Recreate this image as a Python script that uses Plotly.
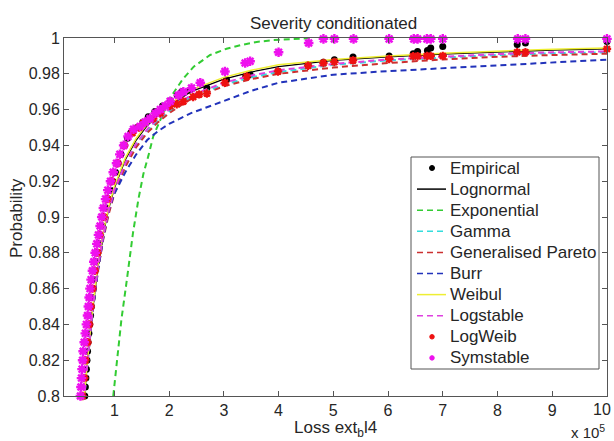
import plotly.graph_objects as go

# ---------------- data (x in units of 1e5) ----------------
emp_x = [0.46, 0.47, 0.48, 0.49, 0.50, 0.51, 0.52, 0.535, 0.55, 0.565, 0.58, 0.595, 0.61, 0.63, 0.65,
         0.67, 0.70, 0.72, 0.75, 0.78, 0.81, 0.85, 0.89, 0.93, 0.97, 1.02, 1.07, 1.12, 1.18, 1.24,
         1.30, 1.34, 1.42, 1.52, 1.62, 1.74, 1.88, 2.02, 2.15, 2.23, 2.38, 2.69, 3.05, 3.40, 3.48,
         3.99, 4.54, 4.82, 5.02, 5.36, 6.02, 6.46, 6.54, 6.72, 6.78, 7.00, 8.36, 8.51, 10.0]
emp_y = [0.800, 0.805, 0.810, 0.815, 0.820, 0.825, 0.830, 0.835, 0.840, 0.845, 0.850, 0.855, 0.860,
         0.865, 0.870, 0.875, 0.880, 0.885, 0.890, 0.895, 0.900, 0.905, 0.910, 0.915, 0.920, 0.925,
         0.930, 0.935, 0.940, 0.944, 0.947, 0.948, 0.950, 0.953, 0.956, 0.959, 0.962, 0.965, 0.968,
         0.970, 0.971, 0.972, 0.9767, 0.9785, 0.9795, 0.9813, 0.985, 0.9864, 0.9879, 0.9894, 0.990,
         0.9912, 0.9925, 0.993, 0.9944, 0.9953, 0.9963, 0.9972, 0.998]

sym_x = [0.38, 0.39, 0.40, 0.41, 0.42, 0.43, 0.45, 0.47, 0.49, 0.51, 0.525, 0.54, 0.555, 0.575, 0.60,
         0.625, 0.65, 0.68, 0.71, 0.74, 0.77, 0.80, 0.84, 0.88, 0.93, 0.98, 1.04, 1.10, 1.17, 1.25,
         1.35, 1.47, 1.56, 1.65, 1.75, 1.84, 1.93, 2.02, 2.17, 2.26, 2.41, 2.57, 3.02, 3.39, 3.48,
         4.00, 4.55, 4.82, 5.02, 5.37, 6.02, 6.47, 6.54, 6.71, 6.78, 7.00, 8.37, 8.51, 10.0]
sym_y = [0.800, 0.805, 0.810, 0.815, 0.820, 0.825, 0.830, 0.835, 0.840, 0.845, 0.850, 0.855, 0.860,
         0.865, 0.870, 0.875, 0.880, 0.885, 0.890, 0.895, 0.900, 0.905, 0.910, 0.915, 0.920, 0.925,
         0.930, 0.935, 0.940, 0.945, 0.949, 0.9506, 0.953, 0.955, 0.958, 0.960, 0.962, 0.9646, 0.968,
         0.970, 0.972, 0.975, 0.9813, 0.986, 0.987, 0.992, 0.9972, 0.9995, 0.9995, 0.9995, 0.9995,
         0.9995, 0.9995, 0.9995, 0.9995, 0.9995, 0.9995, 0.9995, 0.9995]

lw_x = [0.42, 0.45, 0.47, 0.51, 0.54, 0.57, 0.60, 0.645, 0.69, 0.73, 0.80, 0.87, 0.95, 1.06, 1.18,
        1.33, 1.45, 1.53, 1.71, 1.84, 2.02, 2.14, 2.26, 2.44, 2.55, 2.69, 3.02, 3.42, 3.99, 4.54,
        4.82, 5.02, 5.36, 6.02, 6.46, 6.54, 6.71, 6.78, 7.00, 8.36, 8.51, 10.0]
lw_y = [0.80, 0.81, 0.82, 0.83, 0.84, 0.85, 0.86, 0.87, 0.88, 0.89, 0.90, 0.91, 0.92, 0.93, 0.94,
        0.947, 0.950, 0.9525, 0.955, 0.958, 0.962, 0.963, 0.9646, 0.967, 0.9685, 0.969, 0.975, 0.9785,
        0.9813, 0.9845, 0.986, 0.9866, 0.9875, 0.9883, 0.9898, 0.9898, 0.990, 0.990, 0.990, 0.992,
        0.992, 0.9939]

fit_x = [0.38, 0.45, 0.5, 0.6, 0.7, 0.8, 0.9, 1.0, 1.2, 1.4, 1.6, 1.8, 2.0, 2.4, 3.0, 3.5, 4.0,
         5.0, 6.0, 7.0, 8.0, 9.0, 10.0]
lognormal_y = [0.775, 0.800, 0.816, 0.847, 0.872, 0.891, 0.905, 0.916, 0.932, 0.943, 0.951, 0.957,
               0.962, 0.970, 0.977, 0.981, 0.984, 0.9875, 0.9895, 0.991, 0.9922, 0.9932, 0.994]
weibul_y = [0.775, 0.800, 0.817, 0.848, 0.873, 0.892, 0.906, 0.917, 0.933, 0.944, 0.952, 0.958,
            0.963, 0.971, 0.978, 0.982, 0.985, 0.988, 0.990, 0.9915, 0.9927, 0.9937, 0.9944]
logstable_y = [0.775, 0.800, 0.817, 0.848, 0.872, 0.890, 0.904, 0.915, 0.930, 0.941, 0.949, 0.955,
               0.960, 0.968, 0.975, 0.979, 0.982, 0.9855, 0.988, 0.9895, 0.991, 0.992, 0.9925]
gamma_y = [0.775, 0.800, 0.816, 0.847, 0.871, 0.889, 0.903, 0.914, 0.929, 0.940, 0.948, 0.954,
           0.959, 0.967, 0.974, 0.978, 0.981, 0.985, 0.9875, 0.989, 0.9905, 0.9915, 0.992]
gpareto_y = [0.775, 0.800, 0.816, 0.846, 0.870, 0.888, 0.902, 0.913, 0.928, 0.939, 0.947, 0.953,
             0.958, 0.966, 0.973, 0.977, 0.980, 0.9835, 0.986, 0.988, 0.9895, 0.9905, 0.9912]
burr_y = [0.775, 0.800, 0.816, 0.846, 0.870, 0.889, 0.904, 0.913, 0.925, 0.935, 0.943, 0.948,
          0.952, 0.958, 0.965, 0.9705, 0.975, 0.9795, 0.9815, 0.983, 0.9845, 0.986, 0.9879]

exp_x = [0.98, 1.01, 1.13, 1.22, 1.29, 1.34, 1.44, 1.53, 1.62, 1.71, 1.85, 2.05, 2.25, 2.45, 2.75,
         3.05, 3.3, 3.6, 3.9, 4.3, 4.6]
exp_y = [0.800, 0.809, 0.843, 0.863, 0.880, 0.891, 0.910, 0.924, 0.934, 0.945, 0.955, 0.968, 0.977,
         0.984, 0.9905, 0.994, 0.996, 0.9978, 0.9988, 0.9995, 0.9999]

x_ticks = [1, 2, 3, 4, 5, 6, 7, 8, 9, 10]
x_labels = ["1", "2", "3", "4", "5", "6", "7", "8", "9", "10"]
y_ticks = [0.8, 0.82, 0.84, 0.86, 0.88, 0.9, 0.92, 0.94, 0.96, 0.98, 1.0]
y_labels = ["0.8", "0.82", "0.84", "0.86", "0.88", "0.9", "0.92", "0.94", "0.96", "0.98", "1"]

legend_names = ["Empirical", "Lognormal", "Exponential", "Gamma", "Generalised Pareto", "Burr",
                "Weibul", "Logstable", "LogWeib", "Symstable"]

# ---------------- styles ----------------
FONT = "Liberation Sans, Arial, sans-serif"
TXT = "#262626"
AX = "#555555"
DASH = "6px,4px"
C_EMP, C_LOGN, C_EXP, C_GAM = "black", "black", "#33cc33", "#33dddd"
C_GP, C_BURR, C_WEI, C_LST = "#cc3030", "#2233bb", "#eeee33", "#e040e0"
C_LW, C_SYM = "#ee1111", "#ee11ee"

W, H = 614, 441
L, R, T, B = 64, 7, 38, 45
PW, PH = W - L - R, H - T - B


def px(x):
    return (x - L) / PW


def py(y):
    return (H - B - y) / PH


fig = go.Figure()
fig.add_trace(go.Scatter(x=emp_x, y=emp_y, mode="markers", name="Empirical",
                         marker=dict(color=C_EMP, size=7, symbol="circle"), cliponaxis=False))
fig.add_trace(go.Scatter(x=fit_x, y=lognormal_y, mode="lines", name="Lognormal",
                         line=dict(color=C_LOGN, width=1.3)))
fig.add_trace(go.Scatter(x=exp_x, y=exp_y, mode="lines", name="Exponential",
                         line=dict(color=C_EXP, width=2, dash=DASH)))
fig.add_trace(go.Scatter(x=fit_x, y=gamma_y, mode="lines", name="Gamma",
                         line=dict(color=C_GAM, width=2, dash=DASH)))
fig.add_trace(go.Scatter(x=fit_x, y=gpareto_y, mode="lines", name="Generalised Pareto",
                         line=dict(color=C_GP, width=2, dash=DASH)))
fig.add_trace(go.Scatter(x=fit_x, y=burr_y, mode="lines", name="Burr",
                         line=dict(color=C_BURR, width=2, dash=DASH)))
fig.add_trace(go.Scatter(x=fit_x, y=weibul_y, mode="lines", name="Weibul",
                         line=dict(color=C_WEI, width=1.5)))
fig.add_trace(go.Scatter(x=fit_x, y=logstable_y, mode="lines", name="Logstable",
                         line=dict(color=C_LST, width=2, dash=DASH)))
fig.add_trace(go.Scatter(x=lw_x, y=lw_y, mode="markers", name="LogWeib",
                         marker=dict(color=C_LW, size=7, symbol="asterisk-open",
                                     line=dict(color=C_LW, width=2.2)), cliponaxis=False))
fig.add_trace(go.Scatter(x=sym_x, y=sym_y, mode="markers", name="Symstable",
                         marker=dict(color=C_SYM, size=8, symbol="asterisk-open",
                                     line=dict(color=C_SYM, width=2.4)), cliponaxis=False))

axis_common = dict(showline=True, linecolor=AX, linewidth=1, mirror="ticks",
                   ticks="inside", ticklen=5, tickcolor=AX, showgrid=False, zeroline=False,
                   automargin=False, tickfont=dict(family=FONT, size=16, color=TXT))
# the last x label ("10") sits on the figure edge: draw it as an annotation kept inside
fig.update_xaxes(range=[0.08, 10.0005], tickvals=x_ticks, ticktext=x_labels[:-1] + [""],
                 **axis_common)
fig.update_yaxes(range=[0.8, 1.0], tickvals=y_ticks, ticktext=y_labels, **axis_common)

# ---------------- hand-made legend (MATLAB style) ----------------
shapes = [dict(type="rect", xref="paper", yref="paper", x0=px(411), x1=px(599), y0=py(157),
               y1=py(369), line=dict(color=AX, width=1), fillcolor="white", layer="above")]
annotations = []
styles = [
    ("dot", C_EMP, 5), ("line", C_LOGN, "solid"), ("line", C_EXP, DASH), ("line", C_GAM, DASH),
    ("line", C_GP, DASH), ("line", C_BURR, DASH), ("line", C_WEI, "solid"), ("line", C_LST, DASH),
    ("dot", C_LW, 4.5), ("dot", C_SYM, 4.5),
]
for i, (name, st) in enumerate(zip(legend_names, styles)):
    yc = 168 + 21.1 * i
    kind, col, extra = st
    if kind == "line":
        shapes.append(dict(type="line", xref="paper", yref="paper", x0=px(417), x1=px(446),
                           y0=py(yc), y1=py(yc), layer="above",
                           line=dict(color=col, width=1.5, dash=extra)))
    else:
        r = extra / 2
        shapes.append(dict(type="circle", xref="paper", yref="paper", x0=px(432 - r),
                           x1=px(432 + r), y0=py(yc - r), y1=py(yc + r), layer="above",
                           fillcolor=col, line=dict(color=col, width=1)))
    annotations.append(dict(text=name, xref="paper", yref="paper", x=px(448), y=py(yc),
                            xanchor="left", yanchor="middle", showarrow=False,
                            font=dict(family=FONT, size=17, color=TXT)))

annotations += [
    dict(text=x_labels[-1], xref="paper", yref="paper", x=px(613), y=py(409),
         showarrow=False, font=dict(family=FONT, size=16, color=TXT),
         xanchor="right", yanchor="middle"),
    dict(text="Severity conditionated", xref="paper", yref="paper", x=px(333), y=py(23),
         showarrow=False, font=dict(family=FONT, size=17, color=TXT),
         xanchor="center", yanchor="middle"),
    dict(text="Loss ext<sub>b</sub>l4", xref="paper", yref="paper", x=px(335), y=py(429),
         showarrow=False, font=dict(family=FONT, size=17, color=TXT),
         xanchor="center", yanchor="middle"),
    dict(text="x 10<sup>5</sup>", xref="paper", yref="paper", x=px(588), y=py(431),
         showarrow=False, font=dict(family=FONT, size=15, color=TXT),
         xanchor="center", yanchor="middle"),
    dict(text="Probability", xref="paper", yref="paper", x=px(16), y=py(218),
         showarrow=False, textangle=-90, font=dict(family=FONT, size=17, color=TXT),
         xanchor="center", yanchor="middle"),
]

fig.update_layout(
    width=W, height=H,
    margin=dict(l=L, r=R, t=T, b=B, autoexpand=False),
    paper_bgcolor="white", plot_bgcolor="white",
    font=dict(family=FONT, size=16, color=TXT),
    showlegend=False,
    shapes=shapes,
    annotations=annotations,
)

fig.write_html("out.html")
